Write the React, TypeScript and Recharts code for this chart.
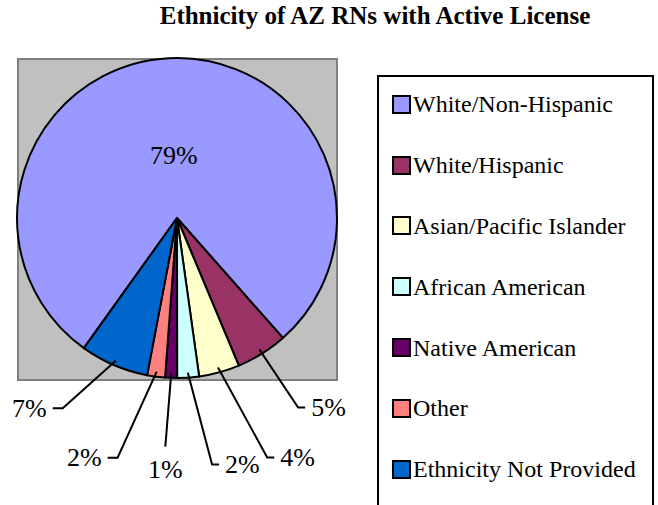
import { PieChart, Pie, Cell, Legend } from "recharts";

const ethnicities = [
  "White/Non-Hispanic",
  "White/Hispanic",
  "Asian/Pacific Islander",
  "African American",
  "Native American",
  "Other",
  "Ethnicity Not Provided",
];
const shares = [78.6, 5.2, 4.1, 2.2, 1.2, 1.8, 6.9];
const sliceColors = ["#9999ff", "#993366", "#ffffcc", "#ccffff", "#660066", "#ff8080", "#0066cc"];

const title = "Ethnicity of AZ RNs with Active License";

// leader line layout for each slice label (angle shift in degrees, elbow radius, tail direction)
const labelLayout = [
  { shift: 0, r: 63, dir: "inside" },
  { shift: -0.5, r: 225, dir: "right" },
  { shift: -5.3, r: 256, dir: "right" },
  { shift: -4.1, r: 249, dir: "right" },
  { shift: 0.8, r: 229, dir: "down" },
  { shift: 6.4, r: 247, dir: "left" },
  { shift: 7.8, r: 222, dir: "left" },
];

const FONT = '"Liberation Serif", "Times New Roman", serif';
const CX = 177;
const CY = 218;
const R = 160;
const RAD = Math.PI / 180;

const data = ethnicities.map((name, i) => ({ name, value: shares[i] }));

function SliceLabel(props: any) {
  const { cx, cy, midAngle, outerRadius, percent, index } = props;
  const text = `${Math.round(percent * 100)}%`;
  const lay = labelLayout[index];
  const style = { fontFamily: FONT, fontSize: 26, fill: "#000" };
  // screen angle, clockwise from 3 o'clock
  const a = -midAngle;
  if (lay.dir === "inside") {
    const x = cx + lay.r * Math.cos(a * RAD);
    const y = cy + lay.r * Math.sin(a * RAD);
    return (
      <text x={x} y={y} textAnchor="middle" dominantBaseline="central" style={style}>
        {text}
      </text>
    );
  }
  const sx = cx + (outerRadius - 5) * Math.cos(a * RAD);
  const sy = cy + (outerRadius - 5) * Math.sin(a * RAD);
  const ea = a + lay.shift;
  const ex = cx + lay.r * Math.cos(ea * RAD);
  const ey = cy + lay.r * Math.sin(ea * RAD);
  let tx = ex;
  let points = `${sx},${sy} ${ex},${ey}`;
  let label;
  if (lay.dir === "right") {
    tx = ex + 7;
    points += ` ${tx},${ey}`;
    label = (
      <text x={tx + 6} y={ey} textAnchor="start" dominantBaseline="central" style={style}>
        {text}
      </text>
    );
  } else if (lay.dir === "left") {
    tx = ex - 10;
    points += ` ${tx},${ey}`;
    label = (
      <text x={tx - 6} y={ey} textAnchor="end" dominantBaseline="central" style={style}>
        {text}
      </text>
    );
  } else {
    label = (
      <text x={ex} y={ey + 23} textAnchor="middle" dominantBaseline="central" style={style}>
        {text}
      </text>
    );
  }
  return (
    <g>
      <polyline points={points} fill="none" stroke="#000" strokeWidth={2} />
      {label}
    </g>
  );
}

function LegendBox() {
  return (
    <div
      style={{
        boxSizing: "border-box",
        width: 277,
        height: 460,
        border: "2px solid #000",
        background: "#fff",
        paddingTop: 0,
        fontFamily: FONT,
        fontSize: 24,
        color: "#000",
      }}
    >
      <div style={{ marginTop: -3 }}>
        {ethnicities.map((name, i) => (
          <div key={name} style={{ display: "flex", alignItems: "center", height: 60.8, paddingLeft: 13 }}>
            <span
              style={{
                boxSizing: "border-box",
                width: 19,
                height: 19,
                background: sliceColors[i],
                border: "2px solid #000",
                marginRight: 2,
              }}
            />
            <span style={{ whiteSpace: "nowrap", lineHeight: 1 }}>{name}</span>
          </div>
        ))}
      </div>
    </div>
  );
}

export default function App() {
  return (
    <div
      style={{
        position: "absolute",
        left: 0,
        top: 0,
        width: 658,
        height: 505,
        overflow: "hidden",
        background: "#fff",
      }}
    >
      <div
        style={{
          position: "absolute",
          left: 0,
          top: 2,
          width: 750,
          textAlign: "center",
          fontFamily: FONT,
          fontWeight: "bold",
          fontSize: 25,
          whiteSpace: "nowrap",
        }}
      >
        {title}
      </div>
      <div
        style={{
          position: "absolute",
          boxSizing: "border-box",
          left: CX - R,
          top: CY - R,
          width: 2 * R + 1,
          height: 2 * R + 3,
          background: "#c0c0c0",
          border: "2px solid #808080",
        }}
      />
      <div style={{ position: "absolute", left: 0, top: 0 }}>
        <PieChart width={658} height={505} margin={{ top: 0, right: 0, bottom: 0, left: 0 }}>
          <Pie
            data={data}
            dataKey="value"
            nameKey="name"
            cx={CX}
            cy={CY}
            outerRadius={R}
            startAngle={234.4}
            endAngle={-125.6}
            stroke="#000"
            strokeWidth={2}
            label={SliceLabel}
            labelLine={false}
            isAnimationActive={false}
          >
            {data.map((d, i) => (
              <Cell key={d.name} fill={sliceColors[i]} />
            ))}
          </Pie>
          <Legend
            content={() => <LegendBox />}
            wrapperStyle={{ position: "absolute", left: 377, top: 75, width: 277, height: 460 }}
          />
        </PieChart>
      </div>
    </div>
  );
}
